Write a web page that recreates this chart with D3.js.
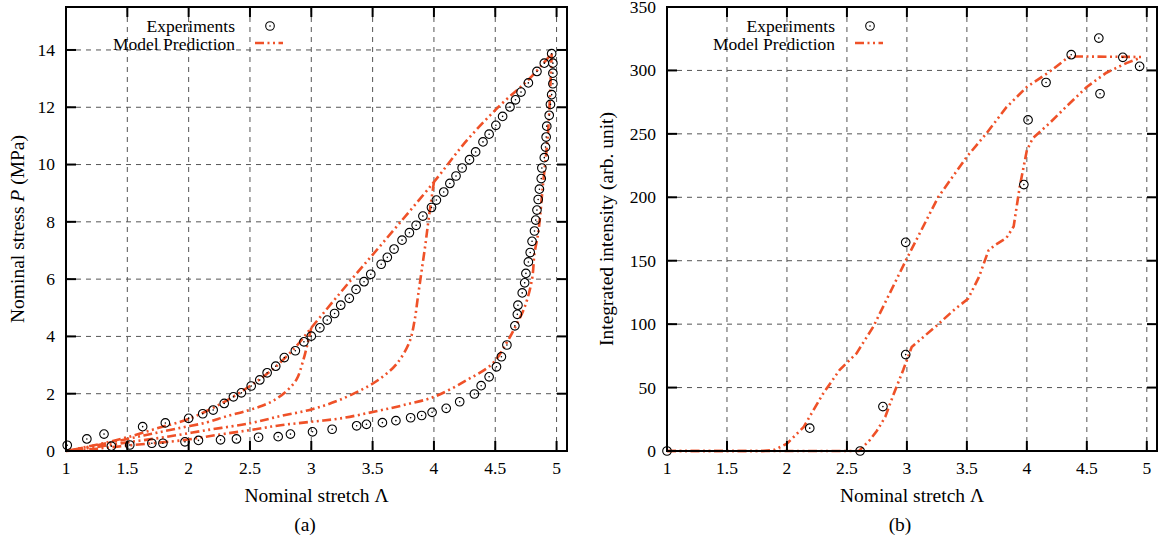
<!DOCTYPE html>
<html>
<head>
<meta charset="utf-8">
<script src="https://cdn.jsdelivr.net/npm/d3@7"></script>
<style>
  body { margin: 0; background: #fff; }
</style>
</head>
<body>
<svg id="chart" width="1160" height="543" font-family="'Liberation Serif', 'Times New Roman', 'DejaVu Serif', serif"></svg>
<script>
// ---------- tick values ----------
const stretchTicks   = [1, 1.5, 2, 2.5, 3, 3.5, 4, 4.5, 5];
const stressTicks    = [0, 2, 4, 6, 8, 10, 12, 14];
const intensityTicks = [0, 50, 100, 150, 200, 250, 300, 350];

// ---------- (a) nominal stress: measured points [stretch, stress MPa] ----------
const stressExperiments = [
  [1.01,0.20],[1.17,0.42],[1.31,0.59],[1.37,0.17],[1.52,0.21],[1.625,0.85],[1.70,0.27],
  [1.79,0.27],[1.81,0.98],[1.97,0.32],[2.00,1.14],[2.08,0.37],[2.115,1.30],[2.20,1.43],
  [2.26,0.39],[2.29,1.66],[2.365,1.89],[2.39,0.42],[2.43,2.03],[2.51,2.27],[2.57,0.48],
  [2.58,2.48],[2.64,2.73],[2.71,2.96],[2.73,0.50],[2.78,3.26],[2.83,0.59],[2.87,3.50],
  [2.94,3.81],[3.00,4.01],[3.01,0.67],[3.07,4.30],[3.13,4.57],[3.17,0.76],[3.19,4.80],
  [3.24,5.09],[3.31,5.33],[3.365,5.64],[3.37,0.88],[3.43,5.91],[3.45,0.93],[3.485,6.17],
  [3.57,6.52],[3.58,0.99],[3.62,6.76],[3.675,7.05],[3.69,1.06],[3.74,7.36],[3.80,7.62],
  [3.81,1.16],[3.855,7.88],[3.90,1.24],[3.91,8.20],[3.98,8.50],[3.985,1.35],[4.02,8.76],
  [4.08,9.04],[4.10,1.49],[4.13,9.34],[4.18,9.60],[4.21,1.72],[4.23,9.88],[4.29,10.17],
  [4.33,1.99],[4.34,10.44],[4.385,2.28],[4.40,10.79],[4.45,11.06],[4.45,2.59],[4.505,11.37],
  [4.51,2.94],[4.55,3.29],[4.56,11.68],[4.595,3.70],[4.62,12.01],[4.66,4.37],[4.665,12.26],
  [4.68,4.77],[4.685,5.09],[4.71,12.53],[4.72,5.52],[4.74,5.87],[4.75,6.20],[4.77,6.60],
  [4.77,12.85],[4.785,6.93],[4.80,7.32],[4.82,7.68],[4.83,8.06],[4.84,8.41],[4.84,13.25],
  [4.85,8.78],[4.86,9.14],[4.875,9.51],[4.88,9.88],[4.90,10.24],[4.90,13.54],[4.91,10.61],
  [4.915,10.96],[4.92,11.34],[4.94,11.72],[4.95,12.10],[4.96,12.44],[4.96,13.87],
  [4.97,12.82],[4.97,13.19],[4.97,13.54]
];

// ---------- (a) model: loading envelope and unloading branches ----------
const stressModelLoading = [
  [1,0],[1.25,0.22],[1.5,0.48],[1.75,0.80],[2.0,1.12],[2.25,1.62],[2.5,2.27],[2.69,2.87],
  [2.87,3.62],[3.0,4.30],[3.32,5.95],[3.6,7.35],[4.0,9.39],[4.27,10.85],[4.54,12.07],
  [4.77,12.96],[4.96,13.87]
];
const stressModelUnload3 = [
  [3.0,4.30],[2.97,3.75],[2.93,3.10],[2.88,2.50],[2.80,2.10],[2.70,1.78],[2.60,1.58],
  [2.47,1.40],[2.30,1.20],[2.15,1.00],[1.90,0.78],[1.70,0.60],[1.50,0.42],[1.25,0.20],[1,0]
];
const stressModelUnload4 = [
  [4.0,9.39],[3.96,8.20],[3.93,7.20],[3.90,6.30],[3.87,5.40],[3.84,4.50],[3.80,3.80],
  [3.70,3.06],[3.60,2.65],[3.48,2.30],[3.24,1.80],[3.0,1.45],[2.75,1.22],[2.5,0.97],
  [2.15,0.73],[1.8,0.48],[1.5,0.30],[1.25,0.14],[1,0]
];
const stressModelUnload5 = [
  [4.96,13.87],[4.93,11.10],[4.89,9.34],[4.85,7.60],[4.82,6.90],[4.80,6.00],[4.74,5.03],
  [4.65,4.22],[4.59,3.76],[4.48,3.06],[4.27,2.48],[4.0,1.89],[3.75,1.60],[3.51,1.37],
  [3.24,1.14],[3.0,1.02],[2.75,0.90],[2.5,0.73],[2.23,0.56],[1.96,0.38],[1.55,0.21],
  [1.25,0.08],[1,0]
];

// ---------- (b) integrated intensity: measured points [stretch, intensity] ----------
const intensityExperiments = [
  [1.0,0],[2.19,18],[2.61,0],[2.80,35],[2.99,76],[2.99,164.5],[3.975,210],[4.01,261],
  [4.16,290.5],[4.37,312.4],[4.60,325.5],[4.61,281.6],[4.80,310.3],[4.94,303.2]
];

// ---------- (b) model branches ----------
const intensityModelUpper = [
  [1,0],[1.8,0],[1.9,1],[2.0,5.8],[2.14,19],[2.3,45],[2.44,64],[2.58,77],[2.72,98],
  [2.85,123],[2.99,150],[3.12,174],[3.26,200],[3.5,232],[3.66,250],[3.83,271],[4.0,287],
  [4.19,299],[4.34,310],[4.41,311],[4.96,310.6]
];
const intensityModelLower = [
  [1,0],[2.6,0],[2.69,8.5],[2.75,16],[2.82,27],[2.89,45],[2.97,64],[3.04,82],[3.25,99],
  [3.39,111],[3.51,120],[3.6,137],[3.68,158],[3.73,162],[3.83,168],[3.89,177],[3.94,208],
  [4.0,237],[4.05,246.6],[4.19,258.5],[4.33,271.6],[4.5,287],[4.66,298],[4.83,305.8],[4.94,309.8]
];

// ---------- styling ----------
const serif      = "'Liberation Serif', 'Times New Roman', 'DejaVu Serif', serif";
const modelColor = "#ef5128";
const modelDash  = "9,3.5,2,3.5,2,3.5";
const gridColor  = "#555";
const svg = d3.select("#chart");

function label(sel, size) {
  return sel.attr("font-family", serif).attr("font-size", size).attr("fill", "#000");
}

function drawPanel(p) {
  const x = d3.scaleLinear().domain([1, 5.085]).range([p.left, p.right]);
  const y = d3.scaleLinear().domain(p.yDomain).range([p.bottom, p.top]);
  const g = svg.append("g");

  // dashed grid
  g.append("g").selectAll("line").data(stretchTicks.filter(v => v > 1)).join("line")
    .attr("x1", d => x(d)).attr("x2", d => x(d)).attr("y1", p.top).attr("y2", p.bottom)
    .attr("stroke", gridColor).attr("stroke-width", 1).attr("stroke-dasharray", "5,5");
  g.append("g").selectAll("line").data(p.yTicks.filter(v => v > p.yDomain[0] && v < p.yDomain[1])).join("line")
    .attr("x1", p.left).attr("x2", p.right).attr("y1", d => y(d)).attr("y2", d => y(d))
    .attr("stroke", gridColor).attr("stroke-width", 1).attr("stroke-dasharray", "5,5");

  // model curves
  const line = d3.line().x(d => x(d[0])).y(d => y(d[1])).curve(p.curve);
  g.append("g").selectAll("path").data(p.model).join("path")
    .attr("d", line).attr("fill", "none").attr("stroke", modelColor)
    .attr("stroke-width", 2.6).attr("stroke-dasharray", modelDash);

  // measured points: open circle with centre dot
  const pts = g.append("g").selectAll("g").data(p.experiments).join("g")
    .attr("transform", d => `translate(${x(d[0])},${y(d[1])})`);
  pts.append("circle").attr("r", 4.3).attr("fill", "none").attr("stroke", "#000").attr("stroke-width", 1.1);
  pts.append("circle").attr("r", 0.8).attr("fill", "#000");

  // frame
  g.append("rect").attr("x", p.left).attr("y", p.top)
    .attr("width", p.right - p.left).attr("height", p.bottom - p.top)
    .attr("fill", "none").attr("stroke", "#000").attr("stroke-width", 2);

  // inward ticks, mirrored on all four sides
  const tk = 10;
  const tg = g.append("g").attr("stroke", "#000").attr("stroke-width", 2);
  stretchTicks.forEach(v => {
    tg.append("line").attr("x1", x(v)).attr("x2", x(v)).attr("y1", p.bottom).attr("y2", p.bottom - tk);
    tg.append("line").attr("x1", x(v)).attr("x2", x(v)).attr("y1", p.top).attr("y2", p.top + tk);
  });
  p.yTicks.forEach(v => {
    tg.append("line").attr("x1", p.left).attr("x2", p.left + tk).attr("y1", y(v)).attr("y2", y(v));
    tg.append("line").attr("x1", p.right).attr("x2", p.right - tk).attr("y1", y(v)).attr("y2", y(v));
  });

  // tick labels
  label(g.append("g").selectAll("text").data(stretchTicks).join("text"), 17.5)
    .attr("x", d => x(d)).attr("y", 474).attr("text-anchor", "middle").text(d => String(d));
  label(g.append("g").selectAll("text").data(p.yTicks).join("text"), 17.5)
    .attr("x", p.left - 11).attr("y", d => y(d)).attr("dy", "0.34em").attr("text-anchor", "end")
    .text(d => String(d));

  // axis titles and caption
  label(g.append("text"), 19.5).attr("x", (p.left + p.right) / 2).attr("y", 502)
    .attr("text-anchor", "middle").text("Nominal stretch \u039B");
  const yl = label(g.append("text"), 19.5)
    .attr("transform", `translate(${p.yLabelX},${(p.top + p.bottom) / 2}) rotate(-90)`)
    .attr("text-anchor", "middle");
  p.yLabel.forEach(part => {
    const t = yl.append("tspan").text(part.text);
    if (part.italic) t.attr("font-style", "italic");
  });
  label(g.append("text"), 19.5).attr("x", p.captionX).attr("y", 531)
    .attr("text-anchor", "middle").text(p.caption);

  // legend
  const lg = g.append("g");
  label(lg.append("text"), 17.5).attr("x", p.legendX).attr("y", 32).attr("text-anchor", "end").text("Experiments");
  label(lg.append("text"), 17.5).attr("x", p.legendX).attr("y", 50).attr("text-anchor", "end").text("Model Prediction");
  const sx = p.legendX + 35;
  lg.append("circle").attr("cx", sx).attr("cy", 26).attr("r", 4.3)
    .attr("fill", "none").attr("stroke", "#000").attr("stroke-width", 1.1);
  lg.append("circle").attr("cx", sx).attr("cy", 26).attr("r", 0.8).attr("fill", "#000");
  lg.append("line").attr("x1", p.legendX + 20).attr("x2", p.legendX + 48)
    .attr("y1", 43).attr("y2", 43).attr("stroke", modelColor)
    .attr("stroke-width", 2.6).attr("stroke-dasharray", modelDash);
}

drawPanel({
  left: 66, right: 567, top: 7, bottom: 451,
  yDomain: [0, 15.5], yTicks: stressTicks,
  experiments: stressExperiments,
  model: [stressModelLoading, stressModelUnload3, stressModelUnload4, stressModelUnload5],
  curve: d3.curveCatmullRom.alpha(0.5),
  yLabelX: 24,
  yLabel: [{text: "Nominal stress "}, {text: "P", italic: true}, {text: " (MPa)"}],
  caption: "(a)", captionX: 305,
  legendX: 235
});

drawPanel({
  left: 667, right: 1157, top: 7, bottom: 451,
  yDomain: [0, 350], yTicks: intensityTicks,
  experiments: intensityExperiments,
  model: [intensityModelUpper, intensityModelLower],
  curve: d3.curveLinear,
  yLabelX: 613,
  yLabel: [{text: "Integrated intensity (arb. unit)"}],
  caption: "(b)", captionX: 900,
  legendX: 835
});
</script>
</body>
</html>
